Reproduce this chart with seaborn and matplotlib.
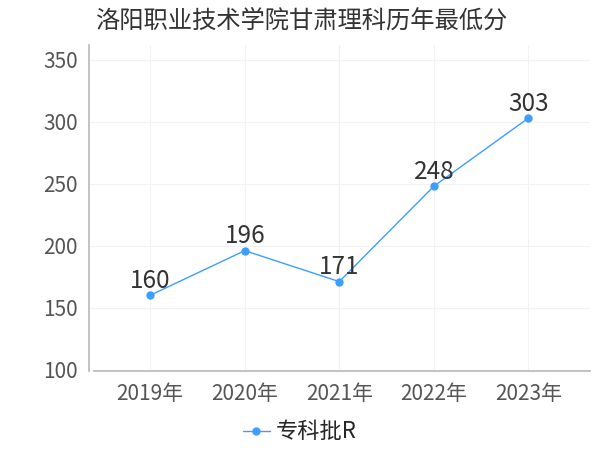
import matplotlib
matplotlib.use("Agg")
import matplotlib.pyplot as plt
import seaborn as sns
import pandas as pd

# data
years = ["2019年", "2020年", "2021年", "2022年", "2023年"]
scores = [160, 196, 171, 248, 303]
series_name = "专科批R"
title = "洛阳职业技术学院甘肃理科历年最低分"

sns.set_theme(style="white")
plt.rcParams["font.family"] = ["Noto Sans CJK SC", "DejaVu Sans"]

df = pd.DataFrame({"year": years, "score": scores, "series": series_name})
x_pos = list(range(len(years)))
df["x"] = x_pos

color = "#3d9eff"
fig = plt.figure(figsize=(6, 4.5), dpi=100)
ax = fig.add_axes([0.148, 0.176, 0.835, 0.724])

sns.lineplot(data=df, x="x", y="score", hue="series", palette=[color],
             marker="o", markersize=6, markeredgewidth=0, linewidth=1,
             ax=ax, legend=False)

for xi, v in zip(x_pos, scores):
    ax.text(xi, v + 1, str(v), ha="center", va="bottom", fontsize=17.5, color="#333333")

ax.set_xlim(-0.65, 4.65)
ax.set_ylim(99, 362)
ax.set_xticks(x_pos)
ax.set_xticklabels(years)
ax.set_yticks([100, 150, 200, 250, 300, 350])
ax.tick_params(axis="both", labelsize=15, colors="#555555", length=4, color="#cccccc")
ax.tick_params(axis="x", pad=5)
ax.tick_params(axis="y", pad=4)
ax.set_xlabel("")
ax.set_ylabel("")
ax.grid(True, color="#f2f2f2", linewidth=0.8)
for s in ["top", "right"]:
    ax.spines[s].set_visible(False)
for s in ["left", "bottom"]:
    ax.spines[s].set_color("#bbbbbb")
ax.spines["bottom"].set_bounds(-0.6, 4.65)

handle = plt.Line2D([], [], color=color, marker="o", markersize=6,
                    markeredgewidth=0, linewidth=1)
fig.legend([handle], [series_name], loc="center", bbox_to_anchor=(0.5, 0.04),
           frameon=False, fontsize=16, handlelength=1.2, handletextpad=0.3)

fig.text(0.158, 0.955, title, fontsize=17.5, color="#333333", ha="left", va="center")

fig.savefig("out.png", dpi=100)
